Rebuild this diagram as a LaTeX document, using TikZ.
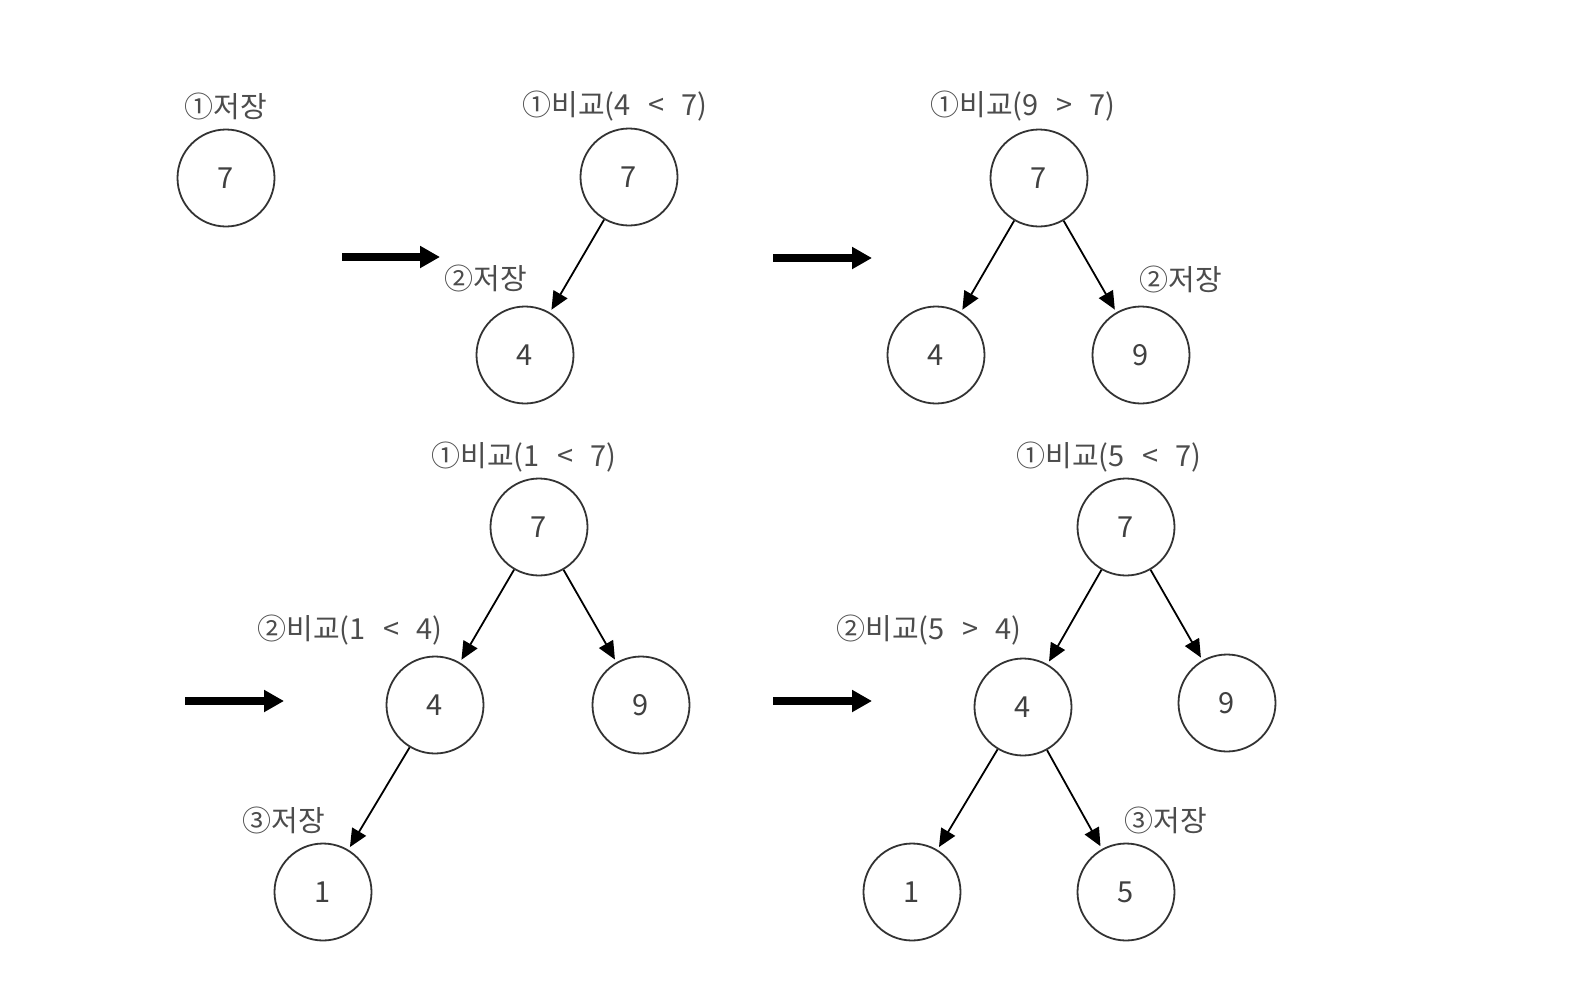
\documentclass[tikz,border=0pt]{standalone}
\usepackage{fontspec}
\setmainfont{Noto Sans CJK KR}
\usetikzlibrary{arrows.meta}
\begin{document}
\begin{tikzpicture}[x=1pt,y=-1pt,
  nd/.style={circle, draw=black!80, line width=1.8pt, minimum size=97pt, inner sep=0pt,
    font=\fontsize{29}{29}\selectfont, text=black!75},
  lbl/.style={font=\fontsize{29}{29}\selectfont, text=black!70, inner sep=0pt,
    execute at begin node={\spaceskip=0.6em\relax}},
  edge/.style={-{Triangle[length=18pt,width=16pt]}, line width=1.8pt, draw=black, shorten >=3pt},
  bigarrow/.style={-{Triangle[length=20pt,width=21pt]}, line width=8pt, draw=black}]
\useasboundingbox (0,0) rectangle (1580,1002);
% tree 1
\node[nd] (t1r) at (226,178) {7};
\node[lbl] (t1l1) at (226,106) {①저장};
% arrow 1
\coordinate (a1s) at (342,257);
\coordinate (a1e) at (440,257);
\draw[bigarrow] (a1s) -- (a1e);
% tree 2
\node[nd] (t2r) at (629,177) {7};
\node[nd] (t2a) at (525,355) {4};
\node[lbl] (t2l1) at (615,106) {①비교(4 < 7)};
\node[lbl] (t2l2) at (486,278) {②저장};
\draw[edge] (t2r) -- (t2a);
% arrow 2
\coordinate (a2s) at (773,258);
\coordinate (a2e) at (872,258);
\draw[bigarrow] (a2s) -- (a2e);
% tree 3
\node[nd] (t3r) at (1039,178) {7};
\node[nd] (t3a) at (936,355) {4};
\node[nd] (t3b) at (1141,355) {9};
\node[lbl] (t3l1) at (1023,106) {①비교(9 > 7)};
\node[lbl] (t3l2) at (1181,279) {②저장};
\draw[edge] (t3r) -- (t3a);
\draw[edge] (t3r) -- (t3b);
% arrow 3
\coordinate (a3s) at (185,701);
\coordinate (a3e) at (284,701);
\draw[bigarrow] (a3s) -- (a3e);
% tree 4
\node[nd] (t4r) at (539,527) {7};
\node[nd] (t4a) at (435,705) {4};
\node[nd] (t4b) at (641,705) {9};
\node[nd] (t4c) at (323,892) {1};
\node[lbl] (t4l1) at (524,457) {①비교(1 < 7)};
\node[lbl] (t4l2) at (350,630) {②비교(1 < 4)};
\node[lbl] (t4l3) at (284,820) {③저장};
\draw[edge] (t4r) -- (t4a);
\draw[edge] (t4r) -- (t4b);
\draw[edge] (t4a) -- (t4c);
% arrow 4
\coordinate (a4s) at (773,701);
\coordinate (a4e) at (872,701);
\draw[bigarrow] (a4s) -- (a4e);
% tree 5
\node[nd] (t5r) at (1126,527) {7};
\node[nd] (t5a) at (1023,707) {4};
\node[nd] (t5b) at (1227,703) {9};
\node[nd] (t5c) at (912,892) {1};
\node[nd] (t5d) at (1126,892) {5};
\node[lbl] (t5l1) at (1109,457) {①비교(5 < 7)};
\node[lbl] (t5l2) at (929,630) {②비교(5 > 4)};
\node[lbl] (t5l3) at (1166,820) {③저장};
\draw[edge] (t5r) -- (t5a);
\draw[edge] (t5r) -- (t5b);
\draw[edge] (t5a) -- (t5c);
\draw[edge] (t5a) -- (t5d);
\end{tikzpicture}
\end{document}
